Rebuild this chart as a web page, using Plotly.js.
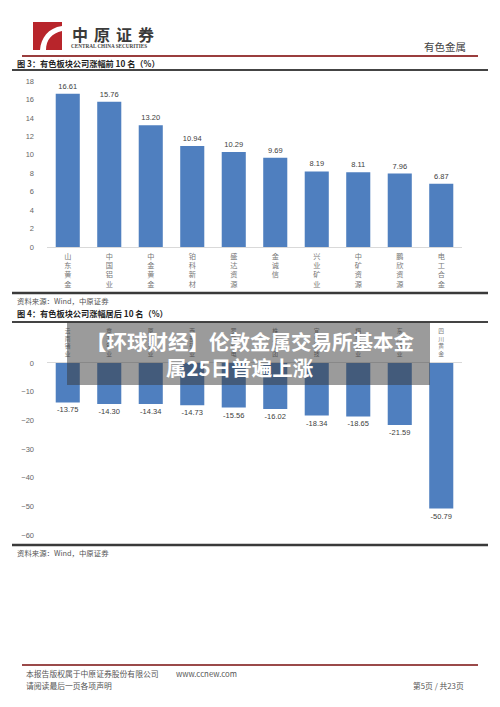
<!DOCTYPE html>
<html>
<head>
<meta charset="utf-8">
<script src="https://cdn.plot.ly/plotly-3.0.1.min.js"></script>
<style>html,body{margin:0;padding:0;background:#fff;}#c{width:500px;height:707px;}</style>
</head>
<body>
<div id="c"></div>
<script>
// Chart 1: top 10 gainers
const topNames = ["山东黄金","中国铝业","中金黄金","铂科新材","盛达资源","金诚信","兴业矿业","中矿资源","鹏欣资源","电工合金"];
const topValues = [16.61, 15.76, 13.20, 10.94, 10.29, 9.69, 8.19, 8.11, 7.96, 6.87];
const topTicks = [0, 2, 4, 6, 8, 10, 12, 14, 16, 18];

// Chart 2: bottom 10
const botNames = ["云南锗业","章源钨业","厦门钨业","西部矿业","罗平锌电","株冶集团","宜安科技","翔鹭钨业","东方锆业","四川黄金"];
const botValues = [-13.75, -14.30, -14.34, -14.73, -15.56, -16.02, -18.34, -18.65, -21.59, -50.79];
const botTicks = [0, -10, -20, -30, -40, -50, -60];

const W = 500, H = 707;
const px = x => x / W;
const py = y => 1 - y / H;
const vert = s => s.split('').join('<br>');

const CJK = '"Noto Sans CJK SC", "Noto Sans", sans-serif';
const barColor = '#4f7fbf';

const traces = [
  {type:'bar', x: topNames.map(vert), y: topValues, xaxis:'x', yaxis:'y',
   marker:{color:barColor}, texttemplate:'%{y:.2f}', textposition:'outside',
   textfont:{size:7.5, color:'#404040', family:'Liberation Sans, Arial, sans-serif'}, cliponaxis:false, hoverinfo:'none'},
  {type:'bar', x: botNames.map(vert), y: botValues, xaxis:'x2', yaxis:'y2',
   marker:{color:barColor}, texttemplate:'%{y:.2f}', textposition:'outside',
   textfont:{size:7.5, color:'#404040', family:'Liberation Sans, Arial, sans-serif'}, cliponaxis:false, hoverinfo:'none'}
];

const tickFont = {size:7.5, color:'#666', family:'Liberation Sans, Arial, sans-serif'};
const catFont = {size:7.2, color:'#777', family:CJK};
const catFont2 = {size:5.8, color:'#777', family:CJK};

const shapes = [
  // logo
  {type:'rect', xref:'paper', yref:'paper', x0:px(33), x1:px(62), y0:py(50), y1:py(22), fillcolor:'#b8252b', line:{width:0}},
  {type:'path', xref:'paper', yref:'paper',
   path:`M ${px(40)} ${py(50)} C ${px(41)} ${py(38)}, ${px(48)} ${py(28)}, ${px(62)} ${py(26)} L ${px(62)} ${py(31)} C ${px(52)} ${py(33)}, ${px(46)} ${py(40)}, ${px(46)} ${py(50)} Z`,
   fillcolor:'#ffffff', line:{width:0}},
  // header line
  {type:'line', xref:'paper', yref:'paper', x0:px(22), x1:px(478), y0:py(56), y1:py(56), line:{color:'#9a3d3d', width:2}},
  // figure 3 title line
  {type:'line', xref:'paper', yref:'paper', x0:px(12), x1:px(488), y0:py(70), y1:py(70), line:{color:'#444', width:2}},
  // chart 1 bottom line
  {type:'line', xref:'paper', yref:'paper', x0:px(12), x1:px(488), y0:py(293), y1:py(293), line:{color:'#3a3a3a', width:2.5}},
  // figure 4 title line
  {type:'line', xref:'paper', yref:'paper', x0:px(12), x1:px(488), y0:py(322), y1:py(322), line:{color:'#444', width:2}},
  // chart 2 bottom line
  {type:'line', xref:'paper', yref:'paper', x0:px(12), x1:px(488), y0:py(545), y1:py(545), line:{color:'#3a3a3a', width:2.5}},
  // footer line
  {type:'line', xref:'paper', yref:'paper', x0:px(22), x1:px(478), y0:py(665), y1:py(665), line:{color:'#9a4a4a', width:2}},
  // overlay banner
  {type:'rect', xref:'paper', yref:'paper', x0:px(67), x1:px(430), y0:py(385), y1:py(322), fillcolor:'rgba(55,55,55,0.5)', line:{width:0}, layer:'above'}
];

function txt(x, y, text, size, opts) {
  return Object.assign({xref:'paper', yref:'paper', x:px(x), y:py(y), text:text, showarrow:false,
    xanchor:'left', yanchor:'middle', font:{size:size, color:'#333', family:CJK}}, opts || {});
}

const logoChars = ['中','原','证','券'];
const logoX = [80, 102, 124, 146];
const annotations = logoChars.map((c, i) =>
  txt(logoX[i], 34, '<b>' + c + '</b>', 16, {xanchor:'center', font:{size:16, color:'#3a3a3a', family:CJK}}));

annotations.push(
  txt(69, 46, '<b>CENTRAL CHINA SECURITIES</b>', 5.2, {font:{size:5.2, color:'#444', family:'Liberation Serif, serif'}}),
  txt(468, 46, '有色金属', 10.5, {xanchor:'right', font:{size:10.5, color:'#444', family:CJK}}),
  txt(15, 63, '<b>图 3：有色板块公司涨幅前 10 名（%）</b>', 8.2, {font:{size:8.2, color:'#222', family:CJK}}),
  txt(15, 300, '资料来源：Wind，中原证券', 7.4, {font:{size:7.4, color:'#555', family:CJK}}),
  txt(15, 313, '<b>图 4：有色板块公司涨幅居后 10 名（%）</b>', 8.2, {font:{size:8.2, color:'#222', family:CJK}}),
  txt(15, 552, '资料来源：Wind，中原证券', 7.4, {font:{size:7.4, color:'#555', family:CJK}}),
  txt(24, 673, '本报告版权属于中原证券股份有限公司　　 www.ccnew.com', 7.8, {font:{size:7.8, color:'#555', family:CJK}}),
  txt(24, 685, '请阅读最后一页各项声明', 7.8, {font:{size:7.8, color:'#555', family:CJK}}),
  txt(466, 685, '第5页 / 共23页', 7.8, {xanchor:'right', font:{size:7.8, color:'#555', family:CJK}}),
  txt(250, 341, '<b>【环球财经】伦敦金属交易所基本金</b>', 20.5, {xanchor:'center', font:{size:20.5, color:'#ffffff', family:CJK}}),
  txt(240, 367, '<b>属25日普遍上涨</b>', 20.5, {xanchor:'center', font:{size:20.5, color:'#ffffff', family:CJK}})
);

const layout = {
  width: W, height: H,
  margin:{l:0, r:0, t:0, b:0},
  paper_bgcolor:'#fff', plot_bgcolor:'#fff',
  showlegend:false,
  bargap:0.42,
  xaxis:{domain:[px(47), px(462)], anchor:'y', showline:true, linecolor:'#d9d9d9', linewidth:1,
         showgrid:false, zeroline:false, tickfont:catFont, ticks:'', ticklabelstandoff:2, fixedrange:true},
  yaxis:{domain:[py(247), py(81)], anchor:'x', range:[0,18], tickvals:topTicks, showgrid:false, zeroline:false,
         showline:false, tickfont:tickFont, ticklabelstandoff:12, fixedrange:true},
  xaxis2:{domain:[px(47), px(462)], anchor:'y2', side:'top', showline:true, linecolor:'#d9d9d9', linewidth:1,
          showgrid:false, zeroline:false, tickfont:catFont2, ticks:'', ticklabelstandoff:4, fixedrange:true},
  yaxis2:{domain:[py(535), py(363)], anchor:'x2', range:[-60,0], tickvals:botTicks, showgrid:false, zeroline:false,
          showline:false, tickfont:tickFont, ticklabelstandoff:12, fixedrange:true},
  shapes: shapes,
  annotations: annotations
};

Plotly.newPlot('c', traces, layout, {displayModeBar:false, staticPlot:true});
</script>
</body>
</html>
